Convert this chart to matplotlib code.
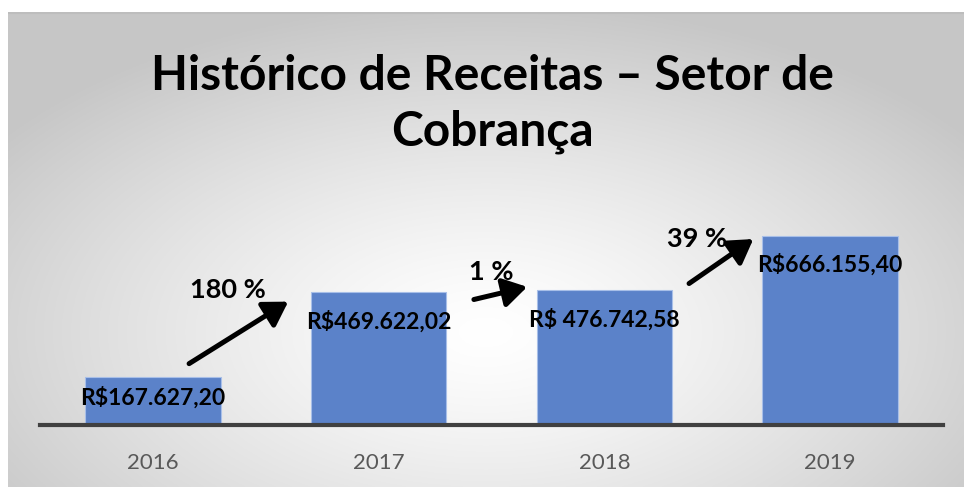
import numpy as np
import matplotlib.pyplot as plt
from matplotlib.patches import FancyArrowPatch

plt.rcParams['font.family'] = ['Lato', 'DejaVu Sans']

years = ['2016', '2017', '2018', '2019']
receitas = [167627.20, 469622.02, 476742.58, 666155.40]
value_labels = ['R$167.627,20', 'R$469.622,02', 'R$ 476.742,58', 'R$666.155,40']
growth_labels = ['180 %', '1 %', '39 %']

fig = plt.figure(figsize=(9.64, 4.87), dpi=100)
fig.patch.set_facecolor('white')

# radial gradient background (chart area)
bg = fig.add_axes([8 / 964, 0, 1 - 8 / 964, 475 / 487])
gx, gy = np.meshgrid(np.linspace(-1, 1, 600), np.linspace(-1, 1, 300))
r = np.sqrt((gx * 1.0) ** 2 + ((gy - 0.35) * 0.9) ** 2)
shade = 1.0 - 0.22 * np.clip(r / 1.25, 0, 1) ** 1.3
bg.imshow(np.dstack([shade] * 3), aspect='auto', extent=[0, 1, 0, 1], origin='upper')
bg.plot([0, 1], [0.997, 0.997], color='#bdbdbd', lw=1.5)
bg.set_xlim(0, 1)
bg.set_ylim(0, 1)
bg.axis('off')

ax = fig.add_axes([40 / 964, 62 / 487, 903 / 964, 227 / 487])
ax.patch.set_alpha(0)
x = np.arange(len(years))
bars = ax.bar(x, receitas, width=0.6, color='#5b82c9', edgecolor='#a8bfe8', linewidth=0.8, zorder=2)
ax.set_xlim(-0.5, 3.5)
ax.set_ylim(0, 800000)

for s in ['top', 'right', 'left']:
    ax.spines[s].set_visible(False)
ax.spines['bottom'].set_color('#404040')
ax.spines['bottom'].set_linewidth(3)
ax.set_yticks([])
ax.set_xticks(x)
ax.set_xticklabels(years, fontsize=16, color='#595959')
ax.tick_params(axis='x', length=0, pad=20)

offsets = [-20, -30, -30, -29]
for xi, v, lab, off in zip(x, receitas, value_labels, offsets):
    ax.annotate(lab, (xi, v), xytext=(0, off * 0.72), textcoords='offset points',
                ha='center', va='center', fontsize=16.5, fontweight='bold', color='black', zorder=4)

# growth arrows between bars
arrows = [((0.15, 211000), (0.61, 440000)),
          ((1.41, 440000), (1.67, 489000)),
          ((2.365, 493000), (2.67, 661000))]
label_pos = [(0.333, 476000), (1.50, 539000), (2.41, 656000)]
for (p0, p1), lab, lp in zip(arrows, growth_labels, label_pos):
    ax.add_patch(FancyArrowPatch(p0, p1, arrowstyle='-|>,head_length=0.9,head_width=0.55',
                                 mutation_scale=16, color='black', lw=3.6, zorder=5))
    ax.text(lp[0], lp[1], lab, ha='center', va='center', fontsize=19.5,
            fontweight='bold', color='black', zorder=5)

fig.text(492 / 964, 1 - 104 / 487, 'Histórico de Receitas – Setor de\nCobrança',
         ha='center', va='center', fontsize=34.5, fontweight='bold', linespacing=1.3)

plt.savefig('out.png', dpi=100)
